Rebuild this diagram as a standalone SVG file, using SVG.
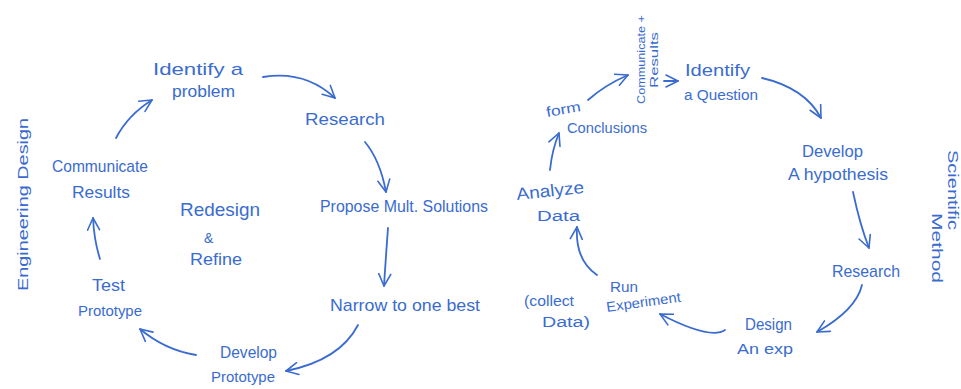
<svg xmlns="http://www.w3.org/2000/svg" width="961" height="389" viewBox="0 0 961 389">
<style>
text{font-family:"Liberation Sans","DejaVu Sans",sans-serif;fill:#3a6ccf;font-size:17px}
.s{font-size:14px}
.xs{font-size:11px}
.c{fill:none;stroke:#3a6ccf;stroke-width:1.8;stroke-linecap:round;marker-end:url(#ah)}
</style>
<defs>
<marker id="ah" viewBox="0 0 14 14" refX="13" refY="7" markerWidth="14" markerHeight="14" markerUnits="userSpaceOnUse" orient="auto">
<path d="M1,1 L13,7 L1,13" fill="none" stroke="#3a6ccf" stroke-width="1.6" stroke-linecap="round" stroke-linejoin="round"/>
</marker>
</defs>
<rect width="961" height="389" fill="#fff"/>

<g id="engineering-title"><text transform="translate(28,291) rotate(-90)" class="s" textLength="173" lengthAdjust="spacingAndGlyphs">Engineering  Design</text></g>
<g id="e-identify"><text x="153" y="75" textLength="90" lengthAdjust="spacingAndGlyphs">Identify a</text><text x="172" y="97" textLength="63" lengthAdjust="spacingAndGlyphs">problem</text></g>
<g id="e-research"><text x="305" y="125" textLength="80" lengthAdjust="spacingAndGlyphs">Research</text></g>
<g id="e-propose"><text x="320" y="212" textLength="168" lengthAdjust="spacingAndGlyphs">Propose Mult. Solutions</text></g>
<g id="e-narrow"><text x="330" y="311" textLength="150" lengthAdjust="spacingAndGlyphs">Narrow to one best</text></g>
<g id="e-develop"><text x="220" y="358" textLength="57" lengthAdjust="spacingAndGlyphs">Develop</text><text x="211" y="382" class="s" textLength="64" lengthAdjust="spacingAndGlyphs">Prototype</text></g>
<g id="e-test"><text x="92" y="291" textLength="33" lengthAdjust="spacingAndGlyphs">Test</text><text x="78" y="316" class="s" textLength="64" lengthAdjust="spacingAndGlyphs">Prototype</text></g>
<g id="e-communicate"><text x="52" y="172" textLength="96" lengthAdjust="spacingAndGlyphs">Communicate</text><text x="72" y="198" textLength="58" lengthAdjust="spacingAndGlyphs">Results</text></g>
<g id="e-redesign"><text x="180" y="216" style="font-size:19px" textLength="80" lengthAdjust="spacingAndGlyphs">Redesign</text><text x="204" y="243" class="s">&amp;</text><text x="190" y="265" textLength="52" lengthAdjust="spacingAndGlyphs">Refine</text></g>

<g id="scientific-title"><text transform="translate(948,150) rotate(90)" class="s" textLength="80" lengthAdjust="spacingAndGlyphs">Scientific</text><text transform="translate(932,213) rotate(90)" class="s" textLength="70" lengthAdjust="spacingAndGlyphs">Method</text></g>
<g id="s-identify"><text x="685" y="76" textLength="65" lengthAdjust="spacingAndGlyphs">Identify</text><text x="684" y="100" class="s" textLength="74" lengthAdjust="spacingAndGlyphs">a Question</text></g>
<g id="s-hypothesis"><text x="802" y="157" textLength="61" lengthAdjust="spacingAndGlyphs">Develop</text><text x="788" y="180" textLength="100" lengthAdjust="spacingAndGlyphs">A hypothesis</text></g>
<g id="s-research"><text x="832" y="277" textLength="68" lengthAdjust="spacingAndGlyphs">Research</text></g>
<g id="s-design"><text x="745" y="330" textLength="47" lengthAdjust="spacingAndGlyphs">Design</text><text x="737" y="354" class="s" textLength="56" lengthAdjust="spacingAndGlyphs">An exp</text></g>
<g id="s-run"><text x="610" y="292" class="s" textLength="28" lengthAdjust="spacingAndGlyphs">Run</text><text x="607" y="312" class="s" textLength="75" lengthAdjust="spacingAndGlyphs" transform="rotate(-8,607,312)">Experiment</text></g>
<g id="s-collect"><text x="524" y="306" class="s" textLength="50" lengthAdjust="spacingAndGlyphs">(collect</text><text x="542" y="327" class="s" textLength="48" lengthAdjust="spacingAndGlyphs">Data)</text></g>
<g id="s-analyze"><text x="517" y="200" textLength="68" lengthAdjust="spacingAndGlyphs" transform="rotate(-6,517,200)">Analyze</text><text x="537" y="221" class="s" textLength="43" lengthAdjust="spacingAndGlyphs">Data</text></g>
<g id="s-conclusions"><text x="547" y="117" class="s" textLength="35" lengthAdjust="spacingAndGlyphs" transform="rotate(-10,547,117)">form</text><text x="567" y="133" class="s" textLength="80" lengthAdjust="spacingAndGlyphs">Conclusions</text></g>
<g id="s-communicate"><text transform="translate(645,104) rotate(-90)" class="xs" textLength="89" lengthAdjust="spacingAndGlyphs">Communicate +</text><text transform="translate(658,88) rotate(-90)" class="xs" textLength="56" lengthAdjust="spacingAndGlyphs">Results</text></g>

<g id="connectors">
<path class="c" d="M263,77 Q305,70 335,98"/>
<path class="c" d="M365,142 Q380,160 386,192"/>
<path class="c" d="M388,228 Q386,255 384,286"/>
<path class="c" d="M358,325 Q340,360 286,371"/>
<path class="c" d="M196,355 Q165,350 140,329"/>
<path class="c" d="M100,259 Q94,240 93,218"/>
<path class="c" d="M116,138 Q128,115 152,100"/>
<path class="c" d="M762,78 Q805,88 821,118"/>
<path class="c" d="M853,192 Q860,225 869,248"/>
<path class="c" d="M862,285 Q856,310 817,332"/>
<path class="c" d="M725,330 Q710,340 660,314"/>
<path class="c" d="M597,275 Q575,260 577,227"/>
<path class="c" d="M550,170 Q552,150 559,133"/>
<path class="c" d="M588,100 Q605,85 628,75"/>
<path class="c" d="M664,81 L678,81"/>
</g>
</svg>
